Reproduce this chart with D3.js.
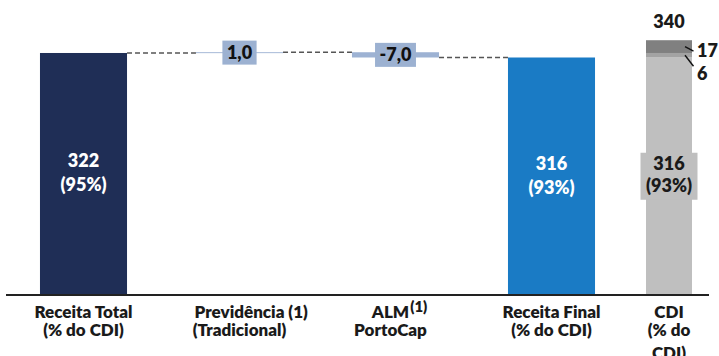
<!DOCTYPE html>
<html><head><meta charset="utf-8">
<script src="https://cdn.jsdelivr.net/npm/d3@7"></script>
<style>body{margin:0;background:#fff} svg{display:block;font-family:Lato,"Open Sans",sans-serif}</style>
</head><body><svg id="c" width="719" height="356"></svg>
<script>
// ---- data ----
const categories = ["Receita Total", "Previdência", "ALM", "Receita Final"];
const catLines = [["Receita Total", "(% do CDI)"], ["Previdência", "(Tradicional)"], ["ALM", "PortoCap"], ["Receita Final", "(% do CDI)"]];
const catNotes = [null, " (1)", "(1)", null];
const barKinds = ["total", "delta", "delta", "total"];
const barValues = [322, 1.0, -7.0, 316];
const valueLabels = ["322", "1,0", "-7,0", "316"];
const pctLabels = ["(95%)", null, null, "(93%)"];
const cdiCategory = "CDI";
const cdiLines = ["CDI", "(% do", "CDI)"];
const cdiSegments = [316, 6, 17];
const cdiSegmentLabels = ["316", "6", "17"];
const cdiPctLabel = "(93%)";
const cdiTotalLabel = "340";
const yMax = 392.5;

// ---- styles ----
const barColors = ["#1f2e56", "#9db2d3", "#9db2d3", "#1a7bc5"];
const cdiColors = ["#bfbfbf", "#a3a3a3", "#808080"];
const txt = "#1a1a1a";
const FW = 800;

const svg = d3.select("#c");
const y = d3.scaleLinear().domain([0, yMax]).range([295, 0]);
const x = d3.scaleBand().domain(categories).range([5.5, 629.5]).paddingInner(0.442).paddingOuter(0.221);
const xc = d3.scaleBand().domain([cdiCategory]).range([646, 692]);
const bw = x.bandwidth();

// waterfall extents
let level = 0;
const bars = barValues.map((v, i) => {
  let s, e;
  if (barKinds[i] === "total") { s = 0; e = v; level = v; }
  else { s = level; e = level + v; level = e; }
  return { cat: categories[i], s, e, v, i, level };
});

// connectors
for (let i = 0; i < bars.length - 1; i++) {
  const lv = bars[i].level;
  svg.append("line")
    .attr("x1", x(bars[i].cat) + bw).attr("x2", x(bars[i + 1].cat))
    .attr("y1", y(lv)).attr("y2", y(lv))
    .attr("stroke", "#555").attr("stroke-width", 1.3).attr("stroke-dasharray", "5,3");
}

// bars
svg.selectAll("rect.bar").data(bars).join("rect").attr("class", "bar")
  .attr("x", d => x(d.cat)).attr("width", bw)
  .attr("y", d => y(Math.max(d.s, d.e)))
  .attr("height", d => Math.max(0.9, Math.abs(y(d.s) - y(d.e))))
  .attr("fill", (d, i) => barColors[i]);

// CDI stacked
let acc = 0;
const segs = cdiSegments.map((v, i) => { const s = acc; acc += v; return { s, e: acc, i }; });
svg.selectAll("rect.cdi").data(segs).join("rect").attr("class", "cdi")
  .attr("x", xc(cdiCategory)).attr("width", xc.bandwidth())
  .attr("y", d => y(d.e)).attr("height", d => y(d.s) - y(d.e))
  .attr("fill", (d, i) => cdiColors[i]);

// axis
svg.append("line").attr("x1", 6).attr("x2", 709).attr("y1", 295).attr("y2", 295)
  .attr("stroke", "#222").attr("stroke-width", 2);

// total labels inside bars
bars.filter(d => d.i === 0 || d.i === 3).forEach(d => {
  const cx = x(d.cat) + bw / 2, cy = y(d.e / 2);
  const t = svg.append("text").attr("text-anchor", "middle").attr("fill", "#fff")
    .attr("font-weight", FW).attr("font-size", 18);
  t.append("tspan").attr("x", cx).attr("y", cy - 6.5).text(valueLabels[d.i]);
  t.append("tspan").attr("x", cx).attr("y", cy + 17.5).text(pctLabels[d.i]);
});

// delta labels with boxes
bars.filter(d => d.i === 1 || d.i === 2).forEach(d => {
  const cx = x(d.cat) + bw / 2, cy = y((d.s + d.e) / 2);
  const g = svg.append("g");
  const r = g.append("rect").attr("fill", "#9cb1d1");
  const t = g.append("text").attr("x", cx).attr("y", cy + 6.5).attr("text-anchor", "middle")
    .attr("font-weight", FW).attr("font-size", 18).attr("fill", "#111").text(valueLabels[d.i]);
  const w = t.node().getComputedTextLength() + 9;
  r.attr("x", cx - w / 2).attr("width", w).attr("y", cy - 12).attr("height", 24);
});

// CDI labels
{
  const cx = xc(cdiCategory) + xc.bandwidth() / 2;
  const cy = y(cdiSegments[0] / 2);
  svg.append("rect").attr("x", cx - 28.5).attr("width", 57).attr("y", cy - 23.5).attr("height", 47).attr("fill", cdiColors[0]);
  const t = svg.append("text").attr("text-anchor", "middle").attr("fill", txt)
    .attr("font-weight", FW).attr("font-size", 18);
  t.append("tspan").attr("x", cx).attr("y", cy - 6).text(cdiSegmentLabels[0]);
  t.append("tspan").attr("x", cx).attr("y", cy + 16).text(cdiPctLabel);
  svg.append("text").attr("x", cx).attr("y", y(acc) - 12).attr("text-anchor", "middle")
    .attr("font-weight", FW).attr("font-size", 18).attr("fill", txt).text(cdiTotalLabel);
  const right = xc(cdiCategory) + xc.bandwidth();
  const offs = { 1: { base: 25, ly: 11 }, 2: { base: 10.5, ly: 4.5 } };
  [2, 1].forEach(i => {
    const sy = y((segs[i].s + segs[i].e) / 2);
    const o = offs[i];
    svg.append("line").attr("x1", right - 7).attr("y1", sy).attr("x2", right + 1.5).attr("y2", sy + o.ly)
      .attr("stroke", "#111").attr("stroke-width", 1.4);
    svg.append("text").attr("x", right + 5).attr("y", sy + o.base).attr("font-weight", FW)
      .attr("font-size", 18).attr("fill", txt).text(cdiSegmentLabels[i]);
  });
}

// category labels
const lineY = [317.7, 336];
categories.forEach((c, i) => {
  const cx = x(c) + bw / 2 + (i === 2 ? -5 : 0);
  catLines[i].forEach((l, j) => {
    const t = svg.append("text").attr("x", cx).attr("y", lineY[j]).attr("text-anchor", "middle")
      .attr("font-weight", FW).attr("font-size", 17).attr("fill", txt).text(l);
    if (j === 0 && catNotes[i]) {
      const w = t.node().getComputedTextLength();
      const sup = i === 2;
      svg.append("text").attr("x", cx + w / 2 + (sup ? 1 : 0)).attr("y", lineY[0] - (sup ? 6 : 0))
        .attr("font-weight", FW).attr("font-size", sup ? 15 : 17).attr("fill", txt)
        .attr("xml:space", "preserve").style("white-space", "pre").text(catNotes[i]);
    }
  });
});
{
  const cx = xc(cdiCategory) + xc.bandwidth() / 2;
  const ys = [317.7, 336, 359];
  cdiLines.forEach((l, j) => svg.append("text").attr("x", cx).attr("y", ys[j]).attr("text-anchor", "middle")
    .attr("font-weight", FW).attr("font-size", 17).attr("fill", txt).text(l));
}
</script></body></html>
